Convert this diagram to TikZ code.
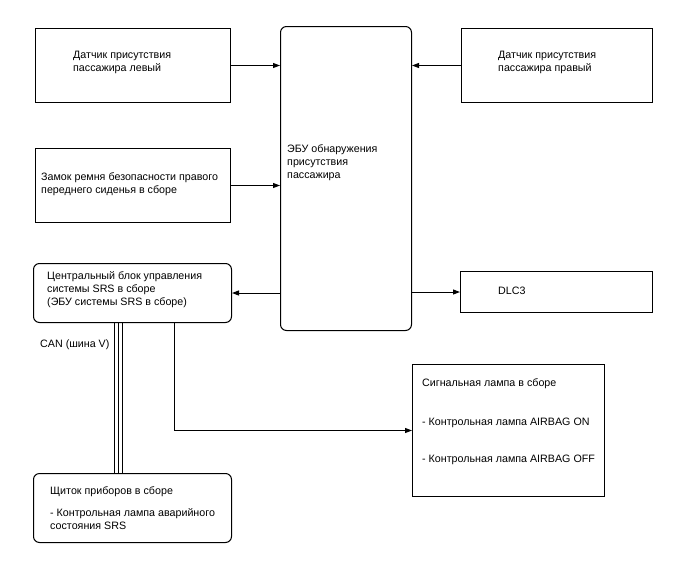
\documentclass[tikz,border=0pt]{standalone}
\usepackage{fontspec}
\setmainfont{Liberation Sans}
\usetikzlibrary{arrows.meta,calc}
\begin{document}
\begin{tikzpicture}[x=1pt,y=-1pt,
  box/.style={draw, line width=1pt, anchor=north west, inner sep=0pt},
  rbox/.style={box, rounded corners=6pt},
  txt/.style={anchor=west, align=left, inner sep=0pt, font=\fontsize{10.7}{13}\selectfont},
  btxt/.style={txt, anchor=base west},
  arr/.style={line width=1pt, -{Triangle[length=7pt,width=5pt]}},
  bus/.style={line width=1pt}]
\useasboundingbox (0,0) rectangle (688,560);
% boxes
\node[box, minimum width=195pt, minimum height=74pt] (lsens) at (35,28) {};
\node[box, minimum width=191pt, minimum height=74pt] (rsens) at (461,28) {};
\node[box, minimum width=195pt, minimum height=74pt] (belt) at (35,148) {};
\node[rbox, minimum width=131pt, minimum height=304pt] (ecu) at (280,26) {};
\node[rbox, minimum width=198pt, minimum height=59pt] (srs) at (33,263) {};
\node[box, minimum width=192pt, minimum height=41pt] (dlc) at (460,271) {};
\node[box, minimum width=192pt, minimum height=132pt] (lamp) at (412,364) {};
\node[rbox, minimum width=198pt, minimum height=69pt] (clus) at (33,473) {};
% texts
\node[txt] (lsenst) at (73,62.5) {Датчик присутствия\\пассажира левый};
\node[txt] (rsenst) at (498,62.5) {Датчик присутствия\\пассажира правый};
\node[txt] (beltt) at (41,184) {Замок ремня безопасности правого\\переднего сиденья в сборе};
\node[txt] (ecut) at (287,162.5) {ЭБУ обнаружения\\присутствия\\пассажира};
\node[txt] (srst) at (47,290) {Центральный блок управления\\системы SRS в сборе\\(ЭБУ системы SRS в сборе)};
\node[txt] (dlct) at (498,291) {DLC3};
\node[btxt] (lamp1) at (422,386.5) {Сигнальная лампа в сборе};
\node[btxt] (lamp2) at (422,425) {- Контрольная лампа AIRBAG ON};
\node[btxt] (lamp3) at (422,462.5) {- Контрольная лампа AIRBAG OFF};
\node[btxt] (clus1) at (50,494) {Щиток приборов в сборе};
\node[txt] (clus2) at (50,519.5) {- Контрольная лампа аварийного\\состояния SRS};
\node[txt] (can) at (40,345) {CAN (шина V)};
% connectors
\draw[arr] (lsens.east) -- (lsens.east -| ecu.west);
\draw[arr] (rsens.west) -- (rsens.west -| ecu.east);
\draw[arr] (belt.east) -- (belt.east -| ecu.west);
\draw[arr] (ecu.west |- srs.east) -- (srs.east);
\draw[arr] (ecu.east |- dlc.west) -- (dlc.west);
\coordinate (sx) at (174,0);
\draw[arr] (srs.south -| sx) |- (lamp.west);
\coordinate (c1) at (114.5,0);
\coordinate (c2) at (118.5,0);
\coordinate (c3) at (122.5,0);
\draw[bus] (srs.south -| c1) -- (clus.north -| c1);
\draw[bus] (srs.south -| c2) -- (clus.north -| c2);
\draw[bus] (srs.south -| c3) -- (clus.north -| c3);
\end{tikzpicture}
\end{document}
